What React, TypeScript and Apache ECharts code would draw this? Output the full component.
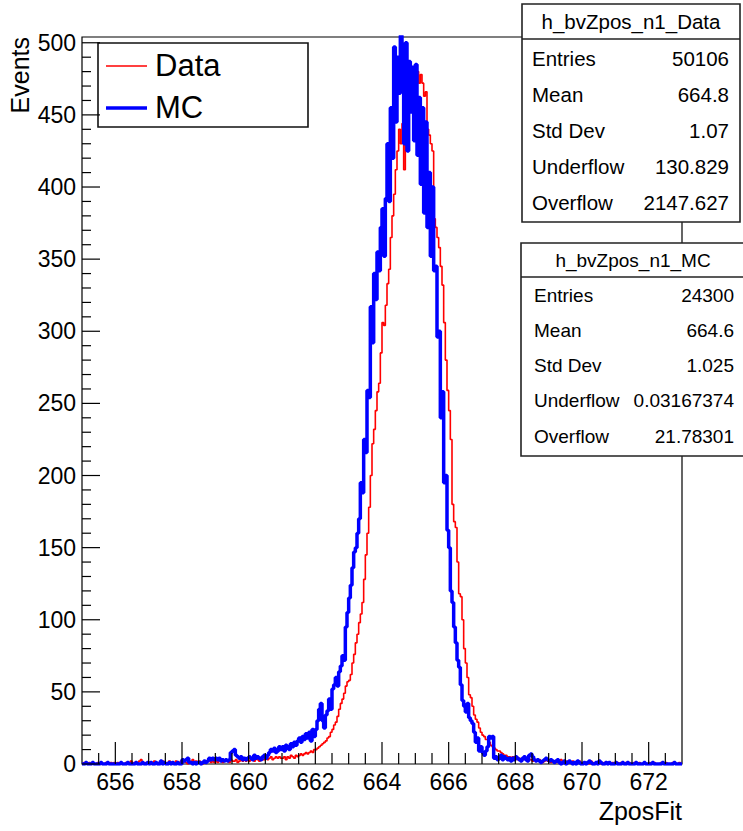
import React, { useEffect, useRef } from "react";
import * as echarts from "echarts";

// ---------- data ----------
const X_MIN = 655;
const X_MAX = 673;
const Y_MIN = 0;
const Y_MAX = 504;
const BIN_START = 655;
const BIN_WIDTH = 0.05;

// Data histogram (red), 20 bins per unit from 655 to 673
const dataCounts = [
  0, 1, 0, 0, 1, 0, 1, 0, 0, 1, 0, 1, 0, 0, 1, 0, 0, 1, 0, 1, // 655
  0, 1, 0, 1, 0, 0, 1, 0, 1, 2, 0, 1, 0, 1, 2, 3, 1, 0, 1, 0, // 656
  1, 0, 1, 2, 1, 0, 1, 1, 2, 1, 0, 1, 2, 1, 1, 0, 2, 1, 1, 2, // 657
  1, 2, 1, 0, 2, 1, 3, 1, 2, 1, 2, 1, 0, 2, 1, 2, 3, 1, 2, 1, // 658
  2, 1, 3, 2, 1, 2, 3, 2, 1, 3, 2, 2, 3, 1, 2, 3, 2, 3, 2, 3, // 659
  2, 3, 3, 2, 4, 3, 2, 4, 3, 3, 4, 3, 4, 5, 3, 4, 5, 4, 5, 4, // 660
  4, 5, 3, 5, 4, 6, 5, 4, 6, 5, 6, 7, 6, 7, 8, 7, 8, 9, 8, 10, // 661
  10, 11, 12, 13, 14, 15, 16, 18, 19, 22, 24, 27, 29, 33, 38, 42, 45, 49, 54, 57, // 662
  58, 62, 70, 76, 84, 90, 98, 104, 112, 128, 145, 160, 178, 200, 222, 232, 245, 258, 264, 285, // 663
  306, 304, 318, 333, 343, 365, 380, 395, 412, 425, 440, 430, 444, 412, 455, 476, 468, 474, 470, 478, // 664
  476, 480, 472, 478, 472, 463, 466, 440, 436, 430, 425, 378, 372, 365, 358, 345, 332, 306, 280, 259, // 665
  245, 225, 180, 168, 164, 140, 118, 116, 100, 80, 70, 60, 48, 46, 40, 34, 31, 29, 25, 22, // 666
  20, 19, 17, 17, 15, 13, 12, 11, 10, 9, 9, 8, 7, 6, 6, 5, 5, 4, 5, 4, // 667
  4, 3, 4, 3, 3, 4, 3, 2, 3, 3, 2, 3, 2, 2, 3, 2, 1, 2, 3, 2, // 668
  2, 1, 2, 2, 1, 2, 1, 3, 2, 1, 1, 2, 1, 1, 2, 1, 0, 1, 2, 1, // 669
  1, 0, 1, 1, 0, 2, 1, 0, 1, 1, 0, 1, 0, 1, 0, 1, 1, 0, 1, 0, // 670
  0, 1, 0, 1, 0, 0, 1, 0, 1, 0, 0, 1, 0, 0, 1, 0, 0, 1, 0, 0, // 671
  1, 0, 0, 1, 0, 0, 0, 1, 0, 0, 1, 0, 0, 0, 1, 0, 0, 0, 1, 0, // 672
];

// MC histogram (blue)
const mcCounts = [
  0, 0, 1, 0, 0, 0, 1, 0, 0, 0, 0, 1, 0, 0, 0, 1, 0, 0, 0, 0, // 655
  0, 0, 0, 1, 0, 0, 0, 1, 0, 0, 0, 0, 1, 0, 0, 0, 1, 0, 0, 1, // 656
  0, 1, 0, 0, 1, 0, 0, 2, 0, 1, 0, 0, 1, 0, 1, 0, 0, 1, 0, 0, // 657
  3, 2, 3, 4, 1, 1, 0, 1, 0, 1, 1, 0, 1, 2, 1, 2, 4, 3, 4, 3, // 658
  4, 3, 4, 2, 3, 2, 3, 2, 3, 8, 9, 10, 6, 5, 4, 5, 3, 4, 3, 4, // 659
  5, 4, 3, 6, 4, 5, 4, 3, 5, 6, 4, 6, 8, 10, 9, 11, 8, 9, 12, 10, // 660
  12, 9, 13, 11, 10, 14, 12, 15, 13, 16, 18, 15, 19, 17, 21, 18, 22, 16, 24, 19, // 661
  24, 30, 38, 42, 30, 25, 34, 37, 45, 38, 52, 55, 60, 54, 64, 68, 75, 72, 95, 105, // 662
  115, 124, 136, 147, 150, 160, 170, 195, 188, 225, 216, 259, 254, 317, 292, 340, 322, 355, 342, 372, // 663
  385, 352, 392, 430, 390, 455, 420, 497, 445, 490, 465, 505, 482, 430, 500, 425, 487, 452, 483, 432, // 664
  485, 422, 462, 402, 455, 382, 445, 372, 410, 352, 400, 342, 345, 296, 300, 240, 258, 195, 200, 162, // 665
  150, 120, 112, 95, 84, 72, 67, 55, 44, 40, 36, 42, 32, 30, 28, 22, 15, 18, 9, 12, // 666
  8, 6, 9, 12, 19, 18, 19, 4, 5, 3, 4, 6, 3, 5, 4, 3, 4, 2, 4, 3, // 667
  5, 4, 3, 2, 4, 5, 3, 2, 6, 7, 5, 3, 2, 3, 2, 1, 2, 3, 4, 3, // 668
  2, 3, 2, 1, 2, 3, 1, 0, 1, 2, 0, 1, 2, 1, 0, 1, 0, 2, 1, 0, // 669
  0, 1, 0, 1, 2, 1, 0, 0, 1, 0, 2, 1, 0, 0, 1, 0, 1, 0, 0, 0, // 670
  1, 0, 0, 0, 1, 0, 0, 1, 0, 0, 0, 0, 1, 0, 0, 0, 0, 1, 0, 0, // 671
  0, 0, 1, 0, 0, 0, 0, 0, 1, 0, 0, 0, 0, 0, 0, 1, 0, 0, 0, 0, // 672
];

const xTickLabels = ["656", "658", "660", "662", "664", "666", "668", "670", "672"];
const yTickLabels = ["0", "50", "100", "150", "200", "250", "300", "350", "400", "450", "500"];
const legendNames = ["Data", "MC"];
const seriesColors = ["#ff0000", "#0000ff"];
const xAxisTitle = "ZposFit";
const yAxisTitle = "Events";

const dataStatsTitle = "h_bvZpos_n1_Data";
const dataStatsRows = [
  ["Entries", "50106"],
  ["Mean", "664.8"],
  ["Std Dev", "1.07"],
  ["Underflow", "130.829"],
  ["Overflow", "2147.627"],
];
const mcStatsTitle = "h_bvZpos_n1_MC";
const mcStatsRows = [
  ["Entries", "24300"],
  ["Mean", "664.6"],
  ["Std Dev", "1.025"],
  ["Underflow", "0.03167374"],
  ["Overflow", "21.78301"],
];

// ---------- helpers ----------
const FONT = '"Liberation Sans", Arial, Helvetica, sans-serif';

function toSteps(counts: number[]) {
  const pts: number[][] = counts.map((v, i) => [BIN_START + i * BIN_WIDTH, v]);
  pts.push([BIN_START + counts.length * BIN_WIDTH, counts[counts.length - 1]]);
  return pts;
}

const xMajorValues = xTickLabels.map(Number);
const xTicks: number[][] = [];
for (let v = 655.5; v < 673; v += 0.5) {
  const isMajor = xMajorValues.some((m) => Math.abs(m - v) < 1e-6);
  xTicks.push([v, 0, isMajor ? 1 : 0]);
}
const yMajorValues = yTickLabels.map(Number);
const yTicks: number[][] = [];
for (let v = 0; v <= 500; v += 10) {
  const isMajor = yMajorValues.some((m) => Math.abs(m - v) < 1e-6);
  yTicks.push([X_MIN, v, isMajor ? 1 : 0]);
}

function statsBox(
  x: number, y: number, w: number, h: number, headerH: number,
  title: string, rows: string[][], fontSize: number,
  labelX: number, valueX: number, firstRowY: number, rowStep: number, titleX: number
) {
  const font = `${fontSize}px ${FONT}`;
  const children: any[] = [
    { type: "rect", shape: { x, y, width: w, height: h }, style: { fill: "#fff", stroke: "#222", lineWidth: 1.6 } },
    { type: "line", shape: { x1: x, y1: y + headerH, x2: x + w, y2: y + headerH }, style: { stroke: "#222", lineWidth: 1.6 } },
    {
      type: "text", x: titleX, y: y + headerH / 2,
      style: { text: title, font, fill: "#000", align: "center", verticalAlign: "middle" },
    },
  ];
  rows.forEach((r, i) => {
    const cy = firstRowY + i * rowStep;
    children.push({ type: "text", x: labelX, y: cy, style: { text: r[0], font, fill: "#000", align: "left", verticalAlign: "middle" } });
    children.push({ type: "text", x: valueX, y: cy, style: { text: r[1], font, fill: "#000", align: "right", verticalAlign: "middle" } });
  });
  return { type: "group", z: 100, children };
}

export default function App() {
  const ref = useRef<HTMLDivElement>(null);

  useEffect(() => {
    document.body.style.margin = "0";
    if (!ref.current) return;
    const chart = echarts.init(ref.current, undefined, { renderer: "svg" });

    const option: any = {
      animation: false,
      backgroundColor: "#fff",
      grid: {
        left: 82, top: 37, width: 600, height: 727,
        show: true, borderColor: "#000", borderWidth: 1.2, backgroundColor: "transparent",
      },
      xAxis: {
        type: "value", min: X_MIN, max: X_MAX,
        axisLine: { show: false }, axisTick: { show: false }, axisLabel: { show: false }, splitLine: { show: false },
      },
      yAxis: {
        type: "value", min: Y_MIN, max: Y_MAX,
        axisLine: { show: false }, axisTick: { show: false }, axisLabel: { show: false }, splitLine: { show: false },
      },
      series: [
        {
          name: legendNames[0], type: "line", step: "end", symbol: "none", clip: true,
          data: toSteps(dataCounts), lineStyle: { color: seriesColors[0], width: 1.6 }, z: 2,
        },
        {
          name: legendNames[1], type: "line", step: "end", symbol: "none", clip: true,
          data: toSteps(mcCounts), lineStyle: { color: seriesColors[1], width: 3.5 }, z: 3,
        },
        {
          type: "custom", silent: true, clip: false, z: 5,
          data: xTicks,
          encode: { x: 0, y: 1 },
          renderItem: (params: any, api: any) => {
            const v = api.value(0);
            const major = api.value(2) === 1;
            const p = api.coord([v, Y_MIN]);
            const children: any[] = [
              { type: "line", shape: { x1: p[0], y1: p[1], x2: p[0], y2: p[1] - (major ? 22 : 11) }, style: { stroke: "#000", lineWidth: 1.2 } },
            ];
            if (major) {
              const idx = xMajorValues.findIndex((m) => Math.abs(m - v) < 1e-6);
              children.push({
                type: "text", x: p[0], y: p[1] + 6,
                style: { text: xTickLabels[idx], font: `23px ${FONT}`, fill: "#000", align: "center", verticalAlign: "top" },
              });
            }
            return { type: "group", children };
          },
        },
        {
          type: "custom", silent: true, clip: false, z: 5,
          data: yTicks,
          encode: { x: 0, y: 1 },
          renderItem: (params: any, api: any) => {
            const v = api.value(1);
            const major = api.value(2) === 1;
            const p = api.coord([X_MIN, v]);
            const children: any[] = [
              { type: "line", shape: { x1: p[0], y1: p[1], x2: p[0] + (major ? 18 : 9), y2: p[1] }, style: { stroke: "#000", lineWidth: 1.2 } },
            ];
            if (major) {
              const idx = yMajorValues.findIndex((m) => Math.abs(m - v) < 1e-6);
              children.push({
                type: "text", x: p[0] - 6, y: p[1],
                style: { text: yTickLabels[idx], font: `23px ${FONT}`, fill: "#000", align: "right", verticalAlign: "middle" },
              });
            }
            return { type: "group", children };
          },
        },
      ],
      graphic: [
        {
          type: "text", x: 682, y: 823, z: 50,
          style: { text: xAxisTitle, font: `25px ${FONT}`, fill: "#000", align: "right", verticalAlign: "bottom" },
        },
        {
          type: "text", x: 20, y: 37, rotation: Math.PI / 2, z: 50,
          style: { text: yAxisTitle, font: `25px ${FONT}`, fill: "#000", align: "right", verticalAlign: "middle" },
        },
        {
          type: "group", z: 100,
          children: [
            { type: "rect", shape: { x: 98, y: 43, width: 210, height: 84 }, style: { fill: "#fff", stroke: "#111", lineWidth: 1.6 } },
            { type: "line", shape: { x1: 106, y1: 66, x2: 147, y2: 66 }, style: { stroke: seriesColors[0], lineWidth: 1.6 } },
            { type: "text", x: 155, y: 65, style: { text: legendNames[0], font: `31px ${FONT}`, fill: "#000", align: "left", verticalAlign: "middle" } },
            { type: "line", shape: { x1: 106, y1: 108, x2: 147, y2: 108 }, style: { stroke: seriesColors[1], lineWidth: 3.5 } },
            { type: "text", x: 155, y: 107, style: { text: legendNames[1], font: `31px ${FONT}`, fill: "#000", align: "left", verticalAlign: "middle" } },
          ],
        },
        statsBox(522, 4, 218, 218, 35, dataStatsTitle, dataStatsRows, 20.5, 532, 729, 58, 36, 631),
        statsBox(521, 243, 224, 213, 34, mcStatsTitle, mcStatsRows, 19, 534, 734, 295, 35.3, 633),
      ],
    };

    chart.setOption(option);
    return () => {
      chart.dispose();
    };
  }, []);

  return <div ref={ref} style={{ width: 743, height: 831 }} />;
}
